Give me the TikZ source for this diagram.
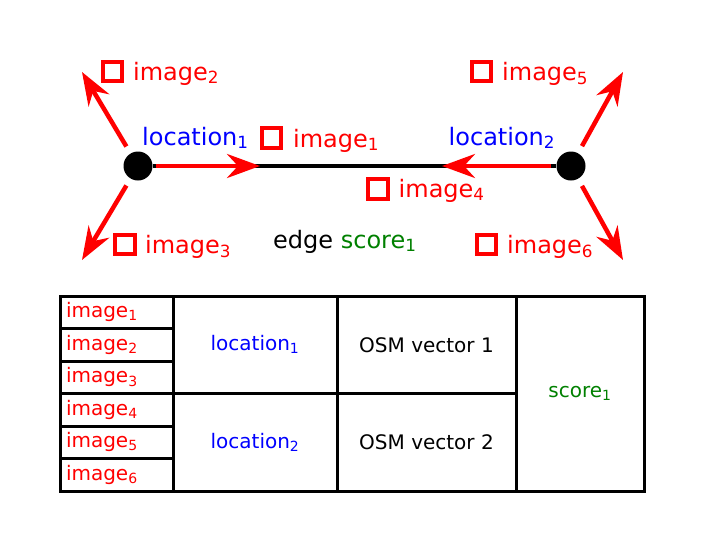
\documentclass[tikz,border=0pt]{standalone}
\usepackage{fontspec}
\setmainfont{DejaVu Sans}
\usetikzlibrary{arrows.meta,positioning}
\definecolor{imgred}{RGB}{255,0,0}
\definecolor{locblue}{RGB}{0,0,255}
\definecolor{scoregreen}{RGB}{0,128,0}
\newcommand{\img}[1]{\textcolor{imgred}{image\textsubscript{#1}}}
\newcommand{\loc}[1]{\textcolor{locblue}{location\textsubscript{#1}}}

\begin{document}
\begin{tikzpicture}[x=1pt,y=-1pt,
  dot/.style={fill=black,circle,minimum size=29pt,inner sep=0pt},
  photo/.style={draw=imgred,line width=4pt,minimum size=19.5pt,inner sep=0pt},
  lbl/.style={font=\fontsize{24}{28}\selectfont,inner sep=0pt,anchor=base west},
  ray/.style={-{Stealth[length=33pt,width=24pt,inset=11pt]},imgred,line width=4.5pt},
  cell/.style={draw,line width=3pt,inner sep=0pt,font=\fontsize{20}{24}\selectfont},
  imgcell/.style={cell,minimum height=32.5pt,text width=101pt,inner xsep=6pt,align=left}]
  \useasboundingbox (0,0) rectangle (705,552);

  % graph
  \node[dot] (loc1) at (138,166) {};
  \node[dot] (loc2) at (571,166) {};
  \coordinate (h1) at (260,166);
  \coordinate (h2) at (442,166);
  \coordinate (t2) at (82,72);
  \coordinate (t3) at (82,260);
  \coordinate (t5) at (623,72);
  \coordinate (t6) at (623,260);
  \draw[line width=3.5pt] (loc1) -- (loc2);
  \draw[ray,shorten <=3pt] (loc1) -- (h1);
  \draw[ray,shorten <=5pt] (loc2) -- (h2);
  \draw[ray,shorten <=8pt] (loc1) -- (t2);
  \draw[ray,shorten <=8pt] (loc1) -- (t3);
  \draw[ray,shorten <=8pt] (loc2) -- (t5);
  \draw[ray,shorten <=8pt] (loc2) -- (t6);

  \node[photo] (p1) at (271.5,138) {};
  \node[photo] (p2) at (112.5,71.5) {};
  \node[photo] (p3) at (125,244.5) {};
  \node[photo] (p4) at (378,189) {};
  \node[photo] (p5) at (481.5,71.5) {};
  \node[photo] (p6) at (486.5,244.5) {};
  \node[lbl] (i1) at (293,147) {\img{1}};
  \node[lbl] (i2) at (133,80) {\img{2}};
  \node[lbl] (i3) at (145,253.5) {\img{3}};
  \node[lbl] (i4) at (398.5,197) {\img{4}};
  \node[lbl] (i5) at (502,80.5) {\img{5}};
  \node[lbl] (i6) at (507,253.5) {\img{6}};
  \node[lbl] (l1) at (142,145) {\loc{1}};
  \node[lbl] (l2) at (448.5,145) {\loc{2}};
  \node[lbl] (edge) at (273,248) {edge \textcolor{scoregreen}{score\textsubscript{1}}};

  % table
  \foreach \k/\y in {1/312.25,2/344.75,3/377.25,4/409.75,5/442.25,6/474.75}
    \node[imgcell] (c\k) at (116.5,\y) {\img{\k}};
  \node[cell,minimum width=164pt,minimum height=97.5pt] (cl1) at (255,344.75) {\loc{1}};
  \node[cell,minimum width=164pt,minimum height=97.5pt] (cl2) at (255,442.25) {\loc{2}};
  \node[cell,minimum width=179pt,minimum height=97.5pt] (co1) at (426.5,344.75) {OSM vector 1};
  \node[cell,minimum width=179pt,minimum height=97.5pt] (co2) at (426.5,442.25) {OSM vector 2};
  \node[cell,minimum width=128pt,minimum height=195pt] (cs) at (580,393.5) {\textcolor{scoregreen}{score\textsubscript{1}}};
\end{tikzpicture}
\end{document}
